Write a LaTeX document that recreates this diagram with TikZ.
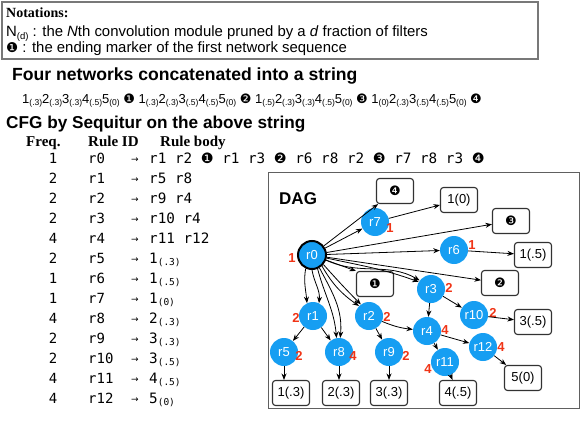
\documentclass[tikz,border=0pt]{standalone}
\usepackage{fontspec}
\setmainfont{Liberation Sans}
\newfontfamily\tmsfont{Liberation Serif}
\newfontfamily\monofont{DejaVu Sans Mono}
\newfontfamily\djfont{DejaVu Sans}
\usetikzlibrary{arrows.meta}

\definecolor{nodeblue}{RGB}{22,158,242}
\definecolor{lblred}{RGB}{240,52,22}
\definecolor{edgegray}{RGB}{50,50,50}
\definecolor{framegray}{RGB}{120,120,120}

\newcommand{\myfs}[1]{\fontsize{#1}{#1}\selectfont}
\newcommand{\nsub}[2]{#1\raisebox{-2.3pt}{\myfs{8.5}(#2)}}
\newcommand{\msub}[2]{#1\raisebox{-2pt}{\myfs{9.5}(#2)}}
\newcommand{\mkr}[1]{{\djfont #1}}

\newcommand{\tabrow}[4]{%
  \node[fq] (fq#1) at (53,{-163-20*#1}) {#2};
  \node[rid] (id#1) at (88,{-163-20*#1}) {#3};
  \node[rar] (ar#1) at (131,{-162-20*#1}) {→};
  \node[rbd] (bd#1) at (149,{-163-20*#1}) {#4};}

\begin{document}
\begin{tikzpicture}[x=1pt,y=1pt,
  txt/.style={anchor=base west,inner sep=0pt},
  fq/.style={anchor=base,inner sep=0pt,font=\monofont\myfs{14}},
  rid/.style={anchor=base west,inner sep=0pt,font=\monofont\myfs{14}},
  rar/.style={anchor=base west,inner sep=0pt,font=\djfont\myfs{9}},
  rbd/.style={anchor=base west,inner sep=0pt,font=\monofont\myfs{14.3}},
  rn/.style={circle,fill=nodeblue,minimum size=28pt,inner sep=0pt,text=white,font=\myfs{13}},
  tb/.style={draw=edgegray,line width=1.1pt,rounded corners=3pt,minimum width=37pt,minimum height=25pt,inner sep=0pt,fill=white,font=\myfs{13}},
  rl/.style={text=lblred,font=\bfseries\myfs{13},inner sep=0pt},
  ar/.style={-{Stealth[length=6.5pt,width=5pt]},line width=0.8pt,black}
]
\useasboundingbox (0,0) rectangle (581,-436);

% notation box
\draw[framegray,line width=1.3pt] (2,-2) rectangle (538,-59);
\node[txt,font=\tmsfont\bfseries\myfs{14}] (notetitle) at (6,-18) {Notations:};
\node[txt,font=\myfs{14.9}] (note1) at (6,-37) {N\raisebox{-2.5pt}{\myfs{9.5}(d)} : the \textit{N}th convolution module pruned by a \textit{d} fraction of filters};
\node[txt,font=\myfs{14.9}] (note2) at (6,-53) {\mkr{\myfs{13.5}❶} : the ending marker of the first network sequence};

% string
\node[txt,font=\bfseries\myfs{17.6}] (head1) at (12,-81) {Four networks concatenated into a string};
\node[txt,font=\myfs{13}] (str) at (22,-103) {\nsub{1}{.3}\nsub{2}{.3}\nsub{3}{.3}\nsub{4}{.5}\nsub{5}{0} \mkr{❶} \nsub{1}{.3}\nsub{2}{.3}\nsub{3}{.5}\nsub{4}{.5}\nsub{5}{0} \mkr{❷} \nsub{1}{.5}\nsub{2}{.3}\nsub{3}{.3}\nsub{4}{.5}\nsub{5}{0} \mkr{❸} \nsub{1}{0}\nsub{2}{.3}\nsub{3}{.5}\nsub{4}{.5}\nsub{5}{0} \mkr{❹}};

% CFG table
\node[txt,font=\bfseries\myfs{17.2}] (head2) at (6,-128) {CFG by Sequitur on the above string};
\node[txt,font=\tmsfont\bfseries\myfs{15}] (hfreq) at (26,-146) {Freq.};
\node[txt,font=\tmsfont\bfseries\myfs{15}] (hid) at (88,-146) {Rule ID};
\node[txt,font=\tmsfont\bfseries\myfs{15}] (hbody) at (160,-146) {Rule body};

\tabrow{0}{1}{r0}{r1 r2 \mkr{❶} r1 r3 \mkr{❷} r6 r8 r2 \mkr{❸} r7 r8 r3 \mkr{❹}}
\tabrow{1}{2}{r1}{r5 r8}
\tabrow{2}{2}{r2}{r9 r4}
\tabrow{3}{2}{r3}{r10 r4}
\tabrow{4}{4}{r4}{r11 r12}
\tabrow{5}{2}{r5}{\msub{1}{.3}}
\tabrow{6}{1}{r6}{\msub{1}{.5}}
\tabrow{7}{1}{r7}{\msub{1}{0}}
\tabrow{8}{4}{r8}{\msub{2}{.3}}
\tabrow{9}{2}{r9}{\msub{3}{.3}}
\tabrow{10}{2}{r10}{\msub{3}{.5}}
\tabrow{11}{4}{r11}{\msub{4}{.5}}
\tabrow{12}{4}{r12}{\msub{5}{0}}

% DAG frame
\draw[framegray!80!black,line width=1pt] (268,-172) rectangle (579,-408);
\node[txt,font=\bfseries\myfs{17}] (dagtitle) at (279,-204) {DAG};

% DAG nodes
\node[rn,draw=black,line width=2pt] (r0) at (312,-255) {r0};
\node[rn] (r7) at (375,-222) {r7};
\node[rn] (r6) at (454,-250) {r6};
\node[rn] (r3) at (431,-289) {r3};
\node[rn] (r1) at (313,-316) {r1};
\node[rn] (r2) at (369,-316) {r2};
\node[rn] (r10) at (474,-315) {r10};
\node[rn] (r4) at (427,-331) {r4};
\node[rn] (r12) at (483,-347) {r12};
\node[rn] (r5) at (284,-352) {r5};
\node[rn] (r8) at (339,-352) {r8};
\node[rn] (r9) at (389,-352) {r9};
\node[rn] (r11) at (445,-362) {r11};

\node[tb] (m4) at (395,-191) {\mkr{❹}};
\node[tb] (t7) at (459,-200) {1(0)};
\node[tb] (m3) at (511,-221) {\mkr{❸}};
\node[tb] (t6) at (533,-255) {1(.5)};
\node[tb] (m2) at (500,-283) {\mkr{❷}};
\node[tb] (m1) at (375,-284) {\mkr{❶}};
\node[tb] (t10) at (533,-322) {3(.5)};
\node[tb] (t12) at (523,-378) {5(0)};
\node[tb] (t5) at (291,-393) {1(.3)};
\node[tb] (t8) at (341,-393) {2(.3)};
\node[tb] (t9) at (389,-393) {3(.3)};
\node[tb] (t11) at (458,-393) {4(.5)};

% frequency labels
\node[rl] (l0) at (292,-258) {1};
\node[rl] (l7) at (390,-228) {1};
\node[rl] (l6) at (472,-245) {1};
\node[rl] (l3) at (449,-288) {2};
\node[rl] (l1) at (296,-318) {2};
\node[rl] (l2) at (387,-317) {2};
\node[rl] (l10) at (493,-313) {2};
\node[rl] (l4) at (445,-330) {4};
\node[rl] (l12) at (501,-347) {4};
\node[rl] (l5) at (299,-356) {2};
\node[rl] (l8) at (353,-356) {4};
\node[rl] (l9) at (406,-356) {2};
\node[rl] (l11) at (428,-369) {4};

% edges from r0
\draw[ar] (r0) -- (m4);
\draw[ar] (r0) -- (r7);
\draw[ar] (r0) -- (m3);
\draw[ar] (r0) -- (r6);
\draw[ar] (r0) -- (m2);
\draw[ar] (r0.-12) to[out=-12,in=160] (r3.150);
\draw[ar] (r0.-20) to[out=-25,in=150] (r3.143);
\draw[ar] (r0) -- (m1.north west);
\draw[ar] (r0.-48) to[out=-60,in=145] (r2.135);
\draw[ar] (r0.-40) to[out=-48,in=135] (r2.125);
\draw[ar] (r0.-68) to[out=-75,in=95] (r8.100);
\draw[ar] (r0.-60) to[out=-62,in=85] (r8.85);
\draw[ar] (r0.-115) to[out=-100,in=95] (r1.115);
\draw[ar] (r0.-90) to[out=-80,in=85] (r1.65);

% other edges
\draw[ar] (r7) -- (t7);
\draw[ar] (r6) -- (t6);
\draw[ar] (r1) -- (r5);
\draw[ar] (r1) -- (r8);
\draw[ar] (r2) -- (r9);
\draw[ar] (r2) to[bend right=8] (r4);
\draw[ar] (r3) -- (r4);
\draw[ar] (r3) -- (r10);
\draw[ar] (r10) -- (t10);
\draw[ar] (r4) -- (r11);
\draw[ar] (r4) -- (r12);
\draw[ar] (r12) -- (t12);
\draw[ar] (r11) -- (t11);
\draw[ar] (r5) -- (r5 |- t5.north);
\draw[ar] (r8) -- (r8 |- t8.north);
\draw[ar] (r9) -- (r9 |- t9.north);
\end{tikzpicture}
\end{document}
